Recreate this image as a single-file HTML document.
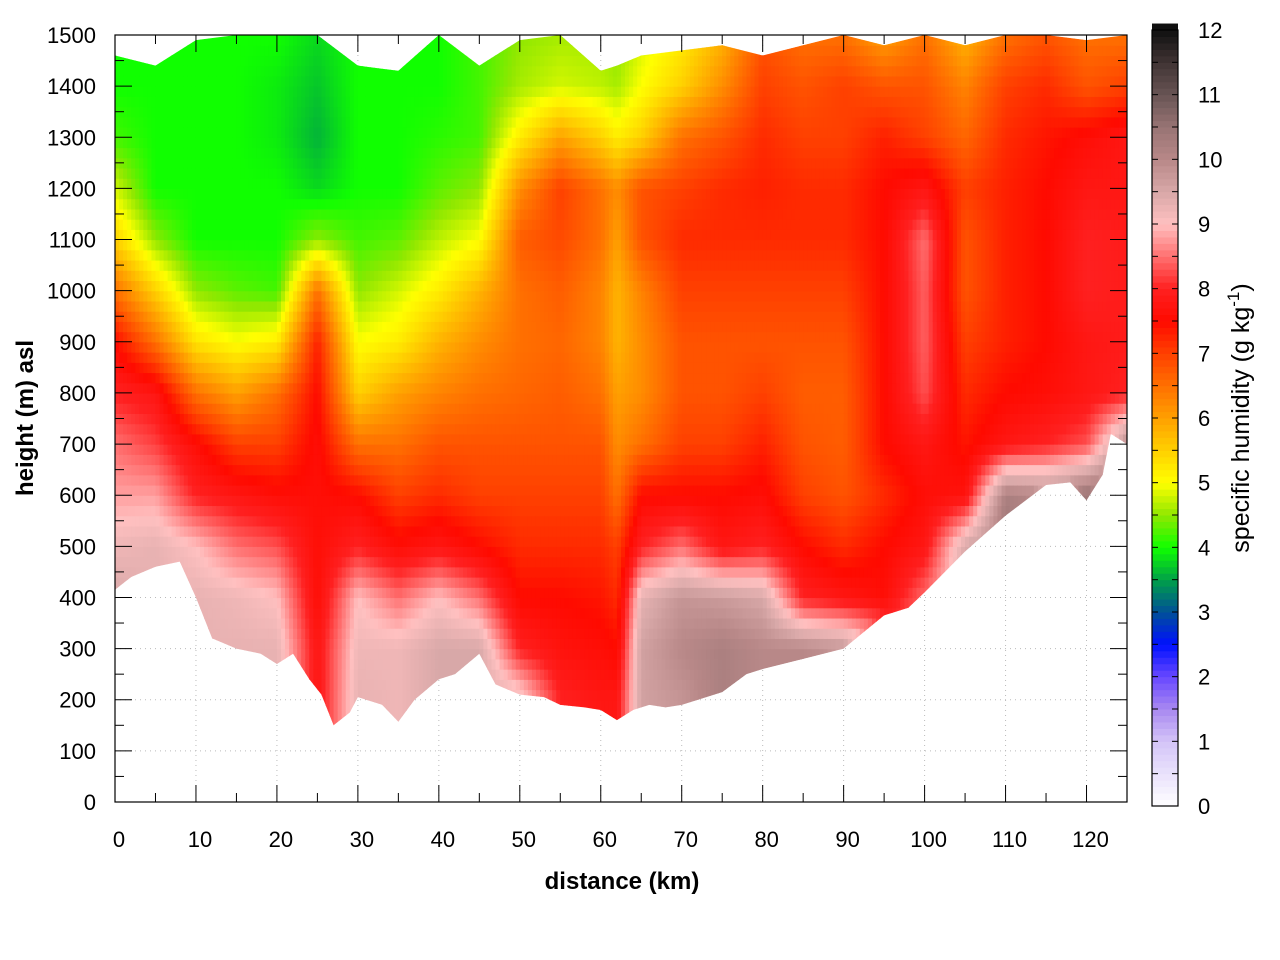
<!DOCTYPE html>
<html><head><meta charset="utf-8"><style>
body{margin:0;background:#fff;}
svg{display:block;font-family:"Liberation Sans",sans-serif;}
</style></head><body>
<svg id="chart" width="1280" height="960" viewBox="0 0 1280 960">
<defs><clipPath id="dataClip"><polygon id="clipPoly" points=""/></clipPath></defs>
<rect x="0" y="0" width="1280" height="960" fill="#fff"/>
<g id="grid"></g>
<g id="cells" clip-path="url(#dataClip)"></g>
<g id="axes"></g>
<g id="cbar"></g>
<text x="622" y="889" text-anchor="middle" font-size="24" font-weight="bold">distance (km)</text>
<text transform="translate(33,418) rotate(-90)" text-anchor="middle" font-size="24" font-weight="bold">height (m) asl</text>
<text transform="translate(1249,418) rotate(-90)" text-anchor="middle" font-size="25">specific humidity (g kg<tspan dy="-10" font-size="17">-1</tspan><tspan dy="10">)</tspan></text>
</svg>
<script>
const distances=[0,5,10,15,20,25,30,35,40,45,50,55,60,62,65,70,75,80,85,90,95,100,105,110,115,120,125];
const topHeights=[1460,1440,1490,1500,1500,1500,1440,1430,1500,1440,1490,1500,1430,1440,1460,1470,1480,1460,1480,1500,1480,1500,1480,1500,1500,1490,1500];
const groundDist=[0,2,5,8,10,12,15,18,20,22,24,25.5,27,29,30,33,35,37,40,42,45,47,50,53,55,58,60,62,64,66,68,70,75,78,80,85,90,95,98,100,105,110,115,118,120,122,123,125];
const groundHeights=[415,440,460,470,400,320,300,290,270,290,240,210,150,175,205,190,157,200,240,250,290,230,210,205,190,185,180,160,180,190,185,190,215,250,260,280,300,365,380,410,490,560,620,625,590,640,720,700];
const levels=[0,100,200,300,400,500,600,700,800,900,1000,1100,1200,1300,1400,1500];
const humidity=[
[9.5,9.5,9.5,9.5,9.5,9.2,8.8,8.5,8.0,7.5,6.5,5.5,4.8,4.2,4.0,4.0],
[9.3,9.3,9.3,9.3,9.3,9.3,8.8,8.2,7.8,6.5,5.5,4.5,4.0,4.0,4.0,4.0],
[9.3,9.3,9.3,9.3,9.3,9.0,8.0,7.6,6.5,5.3,4.5,4.0,4.0,4.0,4.0,4.0],
[9.3,9.3,9.3,9.3,9.2,8.5,7.8,7.0,6.0,5.0,4.3,4.0,4.0,4.0,4.0,4.0],
[9.3,9.3,9.3,9.3,9.0,8.3,7.6,7.0,6.5,5.2,4.2,4.0,4.0,3.9,3.9,4.0],
[7.8,7.8,7.8,7.8,7.6,7.6,7.6,7.6,7.5,7.3,6.5,4.5,3.8,3.6,3.7,3.8],
[9.3,9.3,9.3,9.2,9.0,8.0,7.5,6.5,5.5,5.0,4.5,4.2,4.0,4.0,4.0,4.0],
[9.2,9.2,9.2,9.2,8.5,7.6,7.0,6.5,6.0,5.2,4.8,4.3,4.0,4.0,4.0,4.0],
[9.5,9.5,9.5,9.5,9.0,7.8,7.2,6.8,6.3,5.8,5.2,4.7,4.3,4.1,4.0,4.0],
[9.5,9.5,9.5,9.5,8.5,7.5,7.0,6.8,6.5,6.2,5.8,5.0,4.5,4.2,4.2,4.2],
[9.3,9.3,9.3,8.0,7.5,7.2,7.0,6.8,6.6,6.5,6.5,6.7,6.2,5.2,4.6,4.5],
[8.0,8.0,8.0,7.7,7.5,7.2,7.0,6.8,6.7,6.6,6.7,6.9,7.0,6.0,4.8,4.6],
[7.8,7.8,7.8,7.6,7.4,7.2,7.0,6.8,6.5,6.3,6.3,6.5,6.5,5.5,4.7,4.6],
[7.8,7.8,7.8,7.5,7.2,7.0,6.5,6.2,6.0,5.8,5.8,6.0,6.2,5.2,4.6,4.5],
[9.6,9.6,9.6,9.6,9.3,8.0,7.5,6.5,6.2,6.2,6.3,6.8,6.8,5.5,5.0,4.8],
[9.8,9.8,9.8,10.0,9.8,8.5,7.5,7.0,6.8,6.8,7.0,7.2,7.0,6.5,5.5,5.2],
[10.2,10.2,10.2,10.2,9.7,7.8,7.5,7.0,6.8,6.8,7.0,7.2,7.2,6.8,6.2,5.8],
[10.0,10.0,10.0,10.0,9.5,8.0,7.6,7.3,7.0,6.8,7.0,7.2,7.3,7.2,7.0,6.8],
[10.0,10.0,10.0,10.0,8.0,7.5,7.0,6.8,6.7,6.8,7.0,7.2,7.2,7.0,6.8,6.5],
[9.8,9.8,9.8,9.8,7.8,7.2,6.8,6.7,6.7,6.8,7.0,7.2,7.2,7.0,7.0,6.5],
[9.0,9.0,9.0,9.0,7.6,7.5,7.2,7.5,7.5,7.5,7.5,7.5,7.5,7.3,6.8,6.0],
[8.5,8.5,8.5,8.5,8.5,7.8,7.6,7.8,8.3,8.4,8.4,8.5,7.8,7.0,6.8,6.5],
[9.5,9.5,9.5,9.5,9.5,9.5,7.7,7.4,7.2,7.0,6.8,6.8,7.0,6.6,6.3,5.8],
[10.5,10.5,10.5,10.5,10.5,10.5,10.2,7.8,7.5,7.3,7.3,7.3,7.3,7.2,7.0,6.5],
[10.0,10.0,10.0,10.0,10.0,10.0,10.0,8.0,7.6,7.5,7.5,7.5,7.5,7.4,7.2,6.8],
[10.5,10.5,10.5,10.5,10.5,10.5,10.5,8.3,7.8,7.8,8.0,8.0,7.8,7.6,6.8,6.5],
[10.5,10.5,10.5,10.5,10.5,10.5,10.5,10.0,8.0,7.9,7.9,7.9,7.8,7.8,7.0,6.5]
];
const xTicks=[0,10,20,30,40,50,60,70,80,90,100,110,120];
const yTicks=[0,100,200,300,400,500,600,700,800,900,1000,1100,1200,1300,1400,1500];
const cTicks=[0,1,2,3,4,5,6,7,8,9,10,11,12];
const cmapStops=[[0,"#ffffff"],[1,"#d4c4f8"],[1.5,"#a888f0"],[2,"#6848ff"],[2.5,"#0010ff"],[3,"#005098"],[3.5,"#00a048"],[4,"#10ff00"],[4.5,"#90e800"],[5,"#ffff00"],[5.5,"#ffd000"],[6,"#ffa000"],[6.5,"#ff7000"],[7,"#ff4000"],[7.5,"#ff0a00"],[8,"#ff2020"],[8.5,"#ff7070"],[9,"#ffc0c0"],[9.5,"#d8a8a8"],[10,"#b88888"],[10.5,"#987474"],[11,"#685454"],[11.5,"#403434"],[12,"#101010"]];

const NS="http://www.w3.org/2000/svg";
const PL=115,PR=1127,PT=35,PB=802;
const X=d=>PL+(d/125)*(PR-PL);
const Y=h=>PB-(h/1500)*(PB-PT);
const CB={x:1152,w:26,top:30,bot:806};
const CY=v=>CB.bot-(v/12)*(CB.bot-CB.top);
function hex(c){return[parseInt(c.substr(1,2),16),parseInt(c.substr(3,2),16),parseInt(c.substr(5,2),16)];}
function cmap(v){v=Math.max(0,Math.min(12,v));for(let i=1;i<cmapStops.length;i++){if(v<=cmapStops[i][0]){const a=cmapStops[i-1],b=cmapStops[i];const t=(v-a[0])/(b[0]-a[0]);const ca=hex(a[1]),cb=hex(b[1]);return "rgb("+ca.map((c,k)=>Math.round(c+(cb[k]-c)*t)).join(",")+")";}}return cmapStops[cmapStops.length-1][1];}
function el(tag,attrs,parent){const e=document.createElementNS(NS,tag);for(const k in attrs)e.setAttribute(k,attrs[k]);parent.appendChild(e);return e;}
function interpArr(xs,ys,x){if(x<=xs[0])return ys[0];for(let i=1;i<xs.length;i++){if(x<=xs[i]){const t=(x-xs[i-1])/(xs[i]-xs[i-1]);return ys[i-1]+(ys[i]-ys[i-1])*t;}}return ys[ys.length-1];}
function q(d,h){let i=0;while(i<distances.length-2&&d>distances[i+1])i++;const t=Math.max(0,Math.min(1,(d-distances[i])/(distances[i+1]-distances[i])));const a=interpArr(levels,humidity[i],h),b=interpArr(levels,humidity[i+1],h);return a+(b-a)*t;}

const grid=document.getElementById('grid');
xTicks.forEach(t=>{if(t>0){const l=el('line',{x1:X(t),x2:X(t),y1:PT,y2:PB,stroke:'#bbb','stroke-width':1,'stroke-dasharray':'1,4'},grid);}});
yTicks.forEach(t=>{if(t>0&&t<1500){const l=el('line',{x1:PL,x2:PR,y1:Y(t),y2:Y(t),stroke:'#bbb','stroke-width':1,'stroke-dasharray':'1,4'},grid);}});

let pts=[];groundDist.forEach((d,i)=>pts.push(X(d)+","+Y(groundHeights[i])));
for(let i=distances.length-1;i>=0;i--)pts.push(X(distances[i])+","+Y(topHeights[i]));
document.getElementById('clipPoly').setAttribute('points',pts.join(" "));

const cells=document.getElementById('cells');
const dStep=0.5,hStep=20;
for(let d=0;d<125;d+=dStep){for(let h=0;h<1500;h+=hStep){
 const gh=interpArr(groundDist,groundHeights,d+dStep/2);if(h+hStep<gh-40)continue;
 const r=el('rect',{x:X(d).toFixed(2),y:Y(h+hStep).toFixed(2),width:(X(d+dStep)-X(d)+0.6).toFixed(2),height:(Y(h)-Y(h+hStep)+0.6).toFixed(2),fill:cmap(q(d+dStep/2,Math.max(h+hStep/2,gh+10)))},cells);
 
 
}}

const ax=document.getElementById('axes');
const fr=el('rect',{x:PL,y:PT,width:PR-PL,height:PB-PT,fill:'none',stroke:'#000','stroke-width':1.2},ax);

for(let t=0;t<=125;t+=5){const len=t%10===0?17:9;el('line',{x1:X(t),x2:X(t),y1:PB,y2:PB-len,stroke:'#000'},ax);el('line',{x1:X(t),x2:X(t),y1:PT,y2:PT+len,stroke:'#000'},ax);}
for(let t=0;t<=1500;t+=50){const len=t%100===0?17:9;el('line',{x1:PL,x2:PL+len,y1:Y(t),y2:Y(t),stroke:'#000'},ax);el('line',{x1:PR,x2:PR-len,y1:Y(t),y2:Y(t),stroke:'#000'},ax);}
xTicks.forEach(t=>{const s=el('text',{x:X(t)+4,y:PB+45,'text-anchor':'middle','font-size':22},ax);s.textContent=t;});
yTicks.forEach(t=>{const s=el('text',{x:96,y:Y(t)+8,'text-anchor':'end','font-size':22},ax);s.textContent=t;});

const cb=document.getElementById('cbar');
for(let v=0;v<12;v+=0.1){const r=el('rect',{x:CB.x,y:CY(v+0.1).toFixed(2),width:CB.w,height:(CY(v)-CY(v+0.1)+0.5).toFixed(2),fill:cmap(v+0.05)},cb);}
const cf=el('rect',{x:CB.x,y:CB.top,width:CB.w,height:CB.bot-CB.top,fill:'none',stroke:'#000','stroke-width':1.2},cb);

for(let v=0;v<=12;v+=0.5){el('line',{x1:CB.x,x2:CB.x+6,y1:CY(v),y2:CY(v),stroke:'#000'},cb);el('line',{x1:CB.x+CB.w,x2:CB.x+CB.w-6,y1:CY(v),y2:CY(v),stroke:'#000'},cb);}
cTicks.forEach(t=>{const s=el('text',{x:1198,y:CY(t)+8,'font-size':22},cb);s.textContent=t;});
</script>
</body></html>
